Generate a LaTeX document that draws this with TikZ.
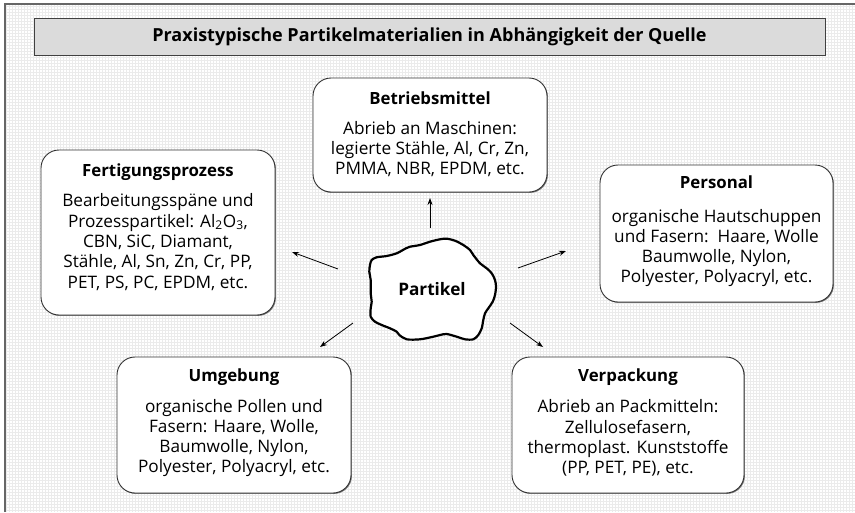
\documentclass[tikz,border=0pt]{standalone}
\usepackage{fontspec}
\setmainfont{Open Sans}
\usetikzlibrary{shadows,arrows.meta}
\tikzset{
  box/.style={draw=black!80, line width=0.9pt, rounded corners=18pt, fill=white,
    drop shadow={shadow xshift=0.9pt, shadow yshift=-0.9pt, fill=black!55, opacity=1}},
  titlebox/.style={draw=black!75, line width=1pt, fill=black!14,
    drop shadow={shadow xshift=0.9pt, shadow yshift=-0.9pt, fill=black!55, opacity=1}},
  head/.style={font=\fontsize{16.8}{19}\selectfont\bfseries, inner sep=0pt},
  body/.style={font=\fontsize{17.2}{20.3}\selectfont, align=center, inner sep=0pt},
  conn/.style={line width=0.8pt, -{Stealth[length=7pt,width=5pt]}},
}
\begin{document}
\begin{tikzpicture}[x=1pt,y=-1pt]
\useasboundingbox (0,0) rectangle (855,512);
\fill[white] (0,0) rectangle (855,512);
\draw[black!8, line width=0.5pt, step=3pt] (5,4) grid (855,512);
\draw[black!60, line width=2pt] (5,512) -- (5,4) -- (855,4);

\node[titlebox, minimum width=791pt, minimum height=37pt] (title) at (429.5,36.5) {};
\node[head, font=\fontsize{18}{20}\selectfont\bfseries] at (429.5,37) {Praxistypische Partikelmaterialien in Abhängigkeit der Quelle};

% boxes
\node[box, minimum width=234pt, minimum height=114pt] (bm) at (430,135) {};
\node[head] at (430,98) {Betriebsmittel};
\node[body] at (430,149) {Abrieb an Maschinen:\\legierte Stähle, Al, Cr, Zn,\\PMMA, NBR, EPDM, etc.};

\node[box, minimum width=234pt, minimum height=165pt] (fp) at (158,232.5) {};
\node[head] at (158,172) {Fertigungsprozess};
\node[body] at (158,242) {Bearbeitungsspäne und\\Prozesspartikel: Al\textsubscript{2}O\textsubscript{3},\\CBN, SiC, Diamant,\\Stähle, Al, Sn, Zn, Cr, PP,\\PET, PS, PC, EPDM, etc.};

\node[box, minimum width=233pt, minimum height=137pt] (pe) at (716.5,233.5) {};
\node[head] at (716.5,182) {Personal};
\node[body] at (716.5,248) {organische Hautschuppen\\und Fasern:\, Haare, Wolle\\Baumwolle, Nylon,\\Polyester, Polyacryl, etc.};

\node[box, minimum width=234pt, minimum height=136pt] (um) at (234,425) {};
\node[head] at (234,377) {Umgebung};
\node[body] at (234,438) {organische Pollen und\\Fasern: Haare, Wolle,\\Baumwolle, Nylon,\\Polyester, Polyacryl, etc.};

\node[box, minimum width=232pt, minimum height=136pt] (vp) at (628,425) {};
\node[head] at (628,377) {Verpackung};
\node[body] at (628,438) {Abrieb an Packmitteln:\\Zellulosefasern,\\thermoplast. Kunststoffe\\(PP, PET, PE), etc.};

% particle blob
\draw[line width=2.2pt, fill=white, line join=round]
  plot[smooth cycle, tension=0.5] coordinates {
  (371.7,260) (376.7,257.3) (386.7,256) (396.7,253.3) (406,248.3) (410,246.7)
  (420,245) (430,241.7) (440,239.3) (446.7,238.7) (455,240.7) (463.3,245)
  (470,250) (473.3,255) (480,263.3) (486.7,268.3) (491.7,273.3) (495,280)
  (496,286.7) (495,295) (492.7,301.7) (488.3,308.3) (485,313.3) (483.3,320)
  (481.7,328.3) (478.3,335) (473.3,339.3) (465,339.3) (456.7,336.7) (446.7,334)
  (440,335) (433.3,336.7) (420,339.3) (406.7,339.3) (399.3,335) (396.7,331.7)
  (390,328.3) (381.7,325) (375,321.7) (370.7,316.7) (370.7,308.3) (371.7,301.7)
  (370.7,293.3) (370.7,280) (369.3,271.7) (370,265)};
\node[font=\fontsize{17.2}{20}\selectfont\bfseries, inner sep=0pt] (partikel) at (432,289) {Partikel};

% connectors
\coordinate (pu) at (430,228);
\coordinate (pl) at (338,269);
\coordinate (pr) at (518,268);
\coordinate (pdl) at (353,323);
\coordinate (pdr) at (510,323);
\coordinate (bmend) at (430,198);
\coordinate (fpend) at (292,252);
\coordinate (peend) at (566,251);
\coordinate (umend) at (320,347);
\coordinate (vpend) at (543,347);
\draw[conn] (pu) -- (bmend);
\draw[conn] (pl) -- (fpend);
\draw[conn] (pr) -- (peend);
\draw[conn] (pdl) -- (umend);
\draw[conn] (pdr) -- (vpend);
\end{tikzpicture}
\end{document}
